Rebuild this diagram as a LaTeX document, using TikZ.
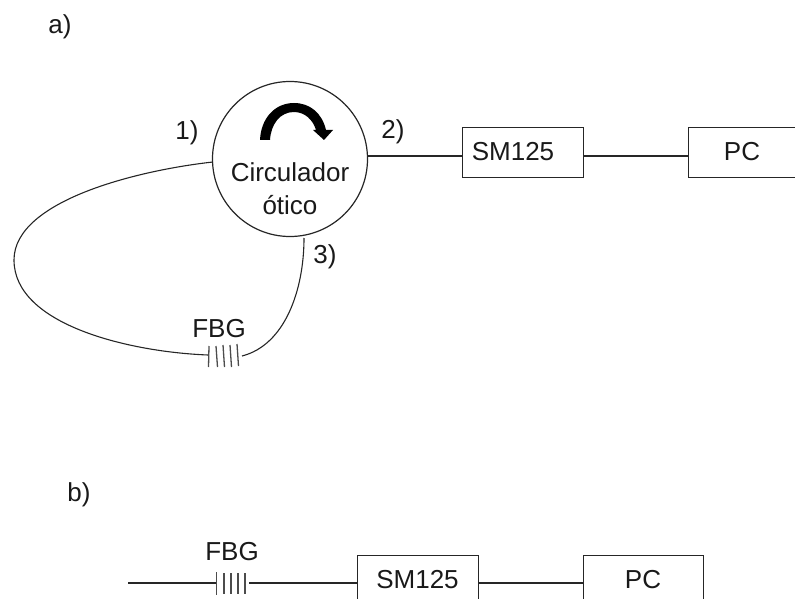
\documentclass[tikz,border=0pt]{standalone}
\usepackage{fontspec}
\setmainfont{Liberation Sans}
\tikzset{
  lbl/.style={inner sep=0pt,font=\fontsize{26pt}{33pt}\selectfont,align=center,text=black!90},
  boxed/.style={draw=black!85,line width=1.2pt,minimum width=121pt,minimum height=50pt,inner sep=0pt},
  wire/.style={draw=black!85,line width=1.1pt},
  bar/.style={draw=black!70,line width=1.3pt}
}
\begin{document}
\begin{tikzpicture}[x=1pt,y=-1pt]
\useasboundingbox (0,0) rectangle (795,599);
\clip (0,0) rectangle (795,599);
\node[lbl] (la) at (60,27) {a)};
\node[lbl] (lb) at (79,495) {b)};
% a) circulator
\node[circle,draw=black!85,line width=1.2pt,minimum size=155pt,inner sep=0pt] (circ) at (290,159) {};
\node[lbl] (ctext) at (290,189) {Circulador\\ótico};
\node[lbl] (p1) at (187,133) {1)};
\node[lbl] (p2) at (393,132) {2)};
\node[lbl] (p3) at (325,257) {3)};
\fill[black] (260,140) .. controls (261,118) and (275,103) .. (294,103)
  .. controls (310,103) and (322,113) .. (326,130) -- (333,130) -- (324,140) -- (313,130) -- (316,130)
  .. controls (313,120) and (305,112) .. (294,112)
  .. controls (280,112) and (271,124) .. (270,140) -- cycle;
\node[boxed,anchor=north west] (sm1) at (462,127) {};
\node[lbl] (sm1t) at (513,152) {SM125};
\node[boxed,anchor=north west] (pc1) at (688,127) {};
\node[lbl] (pc1t) at (742,152) {PC};
\coordinate (c2) at (367,156);
\draw[wire] (c2) -- (c2-|sm1.west);
\draw[wire] (sm1.east|-c2) -- (c2-|pc1.west);
% FBG a
\node[lbl] (fbg1) at (219,329) {FBG};
\coordinate (g1) at (208,355);
\coordinate (g2) at (242,356);
\draw[bar] (209,346) -- (208.5,367) (216,346) -- (217.5,367) (223,345) -- (224.5,367) (230,345) -- (231.5,367) (237,344) -- (238.5,366);
\draw[wire] (213,162) .. controls (140,170) and (14,200) .. (14,260)
  .. controls (14,325) and (130,352) .. (g1);
\draw[wire] (304,238) .. controls (304,290) and (285,345) .. (g2);
% b)
\node[lbl] (fbg2) at (232,552) {FBG};
\node[boxed,anchor=north west,minimum height=60pt] (sm2) at (357,555) {};
\node[lbl] (sm2t) at (417.5,580) {SM125};
\node[boxed,anchor=north west,minimum width=120pt,minimum height=60pt] (pc2) at (583,555) {};
\node[lbl] (pc2t) at (643,580) {PC};
\coordinate (w0) at (128,583);
\coordinate (g3) at (216,583);
\coordinate (g4) at (249,583);
\draw[wire] (w0) -- (g3);
\draw[bar] (216.5,572) -- (216.5,595) (224,573) -- (224,594) (231,573) -- (231,594) (238,573) -- (238,594) (245,573) -- (245,594);
\draw[wire] (g4) -- (sm2.west|-g4);
\draw[wire] (sm2.east|-g4) -- (pc2.west|-g4);
\end{tikzpicture}
\end{document}
